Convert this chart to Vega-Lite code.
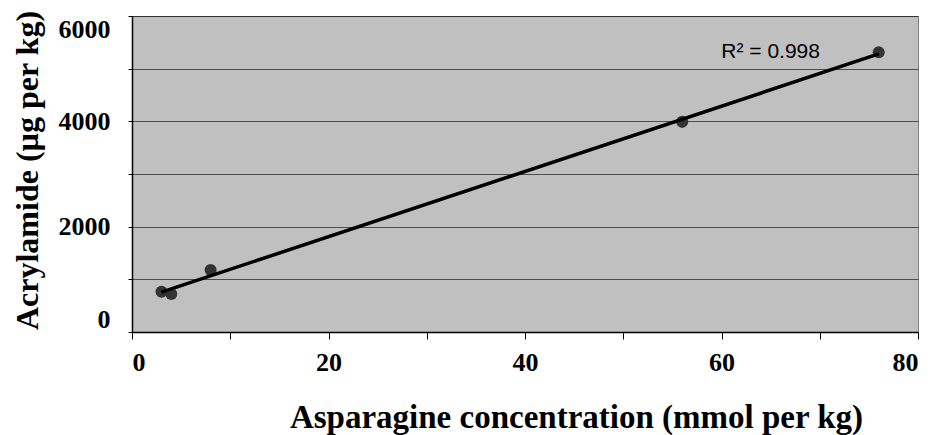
{
  "$schema": "https://vega.github.io/schema/vega-lite/v6.json",
  "width": 786,
  "height": 316,
  "autosize": {"type": "none"},
  "padding": {"left": 132, "top": 16, "right": 17, "bottom": 103},
  "background": "white",
  "config": {
    "view": {"fill": "#C0C0C0", "stroke": "#808080", "strokeWidth": 1},
    "font": "Liberation Serif"
  },
  "datasets": {
    "pts": [
      {"asn": 3, "acr": 765},
      {"asn": 4, "acr": 720},
      {"asn": 8, "acr": 1175},
      {"asn": 56, "acr": 3990},
      {"asn": 76, "acr": 5310}
    ],
    "lbl": [{"asn": 65, "acr": 5203, "t": "R² = 0.998"}]
  },
  "layer": [
    {
      "data": {"name": "pts"},
      "mark": {"type": "point", "filled": true, "color": "#333333", "opacity": 1, "size": 145},
      "encoding": {
        "x": {
          "field": "asn", "type": "quantitative",
          "scale": {"domain": [0, 80], "nice": false, "zero": false},
          "axis": {
            "values": [0, 10, 20, 30, 40, 50, 60, 70, 80],
            "labelExpr": "datum.value % 20 == 0 ? datum.label : ''",
            "grid": false, "domainColor": "black", "domainWidth": 1.5,
            "tickColor": "black", "tickSize": 7, "tickWidth": 1,
            "labelFont": "Liberation Serif", "labelFontWeight": "bold", "labelFontSize": 26,
            "labelColor": "black", "labelPadding": 10,
            "title": "Asparagine concentration (mmol per kg)",
            "titleFont": "Liberation Serif", "titleFontWeight": "bold", "titleFontSize": 33,
            "titleColor": "black", "titleX": 444, "titleY": 95, "titleBaseline": "alphabetic",
            "titleAnchor": "middle"
          }
        },
        "y": {
          "field": "acr", "type": "quantitative",
          "scale": {"domain": [0, 6000], "nice": false},
          "axis": {
            "values": [0, 1000, 2000, 3000, 4000, 5000, 6000],
            "labelExpr": "datum.value % 2000 == 0 ? datum.value : ''",
            "labelFlush": true,
            "grid": true, "gridColor": "black", "gridWidth": 0.8, "gridOpacity": 0.75,
            "domainColor": "black", "domainWidth": 1.5,
            "tickColor": "black", "tickSize": 4,
            "labelFont": "Liberation Serif", "labelFontWeight": "bold", "labelFontSize": 26,
            "labelColor": "black", "labelPadding": 18,
            "title": "Acrylamide (µg per kg)",
            "titleFont": "Liberation Serif", "titleFontWeight": "bold", "titleFontSize": 32,
            "titleColor": "black", "titleX": -95, "titleY": 154, "titleAngle": -90,
            "titleBaseline": "alphabetic", "titleAnchor": "middle"
          }
        }
      }
    },
    {
      "data": {"name": "pts"},
      "transform": [{"regression": "acr", "on": "asn", "extent": [3, 76]}],
      "mark": {"type": "line", "color": "black", "strokeWidth": 3.5},
      "encoding": {
        "x": {"field": "asn", "type": "quantitative"},
        "y": {"field": "acr", "type": "quantitative"}
      }
    },
    {
      "data": {"name": "lbl"},
      "mark": {"type": "text", "font": "Liberation Sans", "fontSize": 21, "align": "center", "baseline": "alphabetic", "color": "black"},
      "encoding": {
        "x": {"field": "asn", "type": "quantitative"},
        "y": {"field": "acr", "type": "quantitative"},
        "text": {"field": "t"}
      }
    }
  ]
}
